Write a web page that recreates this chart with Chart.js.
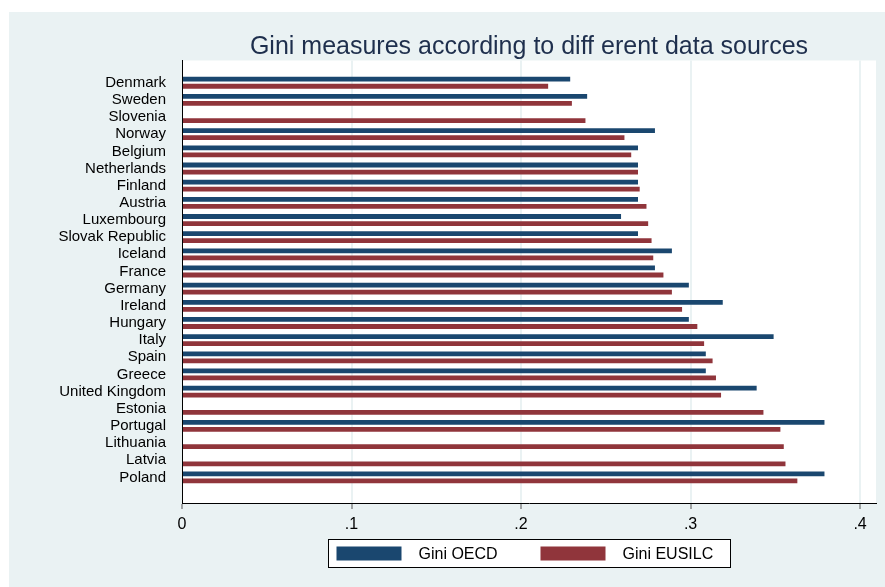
<!DOCTYPE html>
<html lang="en">
<head>
<meta charset="UTF-8">
<title>Gini measures according to different data sources</title>
<script src="https://cdn.jsdelivr.net/npm/chart.js"></script>
<style>
  html, body { margin: 0; padding: 0; background: #fff; }
  #wrap { width: 885px; height: 587px; }
</style>
</head>
<body>
<div id="wrap"><canvas id="giniChart" width="885" height="587"></canvas></div>
<script>
// values
const countries = ['Denmark', 'Sweden', 'Slovenia', 'Norway', 'Belgium', 'Netherlands', 'Finland',
  'Austria', 'Luxembourg', 'Slovak Republic', 'Iceland', 'France', 'Germany', 'Ireland', 'Hungary',
  'Italy', 'Spain', 'Greece', 'United Kingdom', 'Estonia', 'Portugal', 'Lithuania', 'Latvia', 'Poland'];
const giniOECD = [0.229, 0.239, null, 0.279, 0.269, 0.269, 0.269, 0.269, 0.259, 0.269, 0.289, 0.279,
  0.299, 0.319, 0.299, 0.349, 0.309, 0.309, 0.339, null, 0.379, null, null, 0.379];
const giniEUSILC = [0.216, 0.230, 0.238, 0.261, 0.265, 0.269, 0.270, 0.274, 0.275, 0.277, 0.278, 0.284,
  0.289, 0.295, 0.304, 0.308, 0.313, 0.315, 0.318, 0.343, 0.353, 0.355, 0.356, 0.363];
const xTicks = [0, 0.1, 0.2, 0.3, 0.4];
const xTickLabels = ['0', '.1', '.2', '.3', '.4'];

const FONT = 'Liberation Sans, Arial, sans-serif';

// stata-ish background: bluish graph region, white plot region
const bgPlugin = {
  id: 'stataBackground',
  beforeDraw(chart) {
    const c = chart.ctx, a = chart.chartArea;
    c.save();
    c.fillStyle = '#fff';
    c.fillRect(0, 0, chart.width, chart.height);
    c.fillStyle = '#EAF2F3';
    c.fillRect(9, 12, chart.width - 9, chart.height - 12);
    c.fillStyle = '#fff';
    c.fillRect(a.left, a.top, a.right - a.left, a.bottom - a.top);
    c.restore();
  }
};

// boxed legend under the axis
const legendPlugin = {
  id: 'boxLegend',
  afterDraw(chart) {
    const c = chart.ctx, a = chart.chartArea;
    const cx = (a.left + a.right) / 2;
    const left = Math.round(cx - 201) + 0.5;
    const top = chart.height - 48 + 0.5;
    c.save();
    c.fillStyle = '#fff';
    c.fillRect(left, top, 402, 28);
    c.strokeStyle = '#000';
    c.lineWidth = 1;
    c.strokeRect(left, top, 402, 28);
    c.font = '16px ' + FONT;
    c.textBaseline = 'middle';
    chart.data.datasets.forEach((ds, i) => {
      const x0 = left + 8 + i * 204;
      c.fillStyle = ds.backgroundColor;
      c.fillRect(x0, top + 7, 65, 14);
      c.fillStyle = '#000';
      c.fillText(ds.label, x0 + 82, top + 15);
    });
    c.restore();
  }
};

const ctx = document.getElementById('giniChart').getContext('2d');
new Chart(ctx, {
  type: 'bar',
  data: {
    datasets: [{
      label: 'Gini OECD',
      data: giniOECD.map((v, i) => ({ x: v, y: i })),
      backgroundColor: '#1A476F',
      barPercentage: 0.68,
      categoryPercentage: 0.82
    }, {
      label: 'Gini EUSILC',
      data: giniEUSILC.map((v, i) => ({ x: v, y: i })),
      backgroundColor: '#90353B',
      barPercentage: 0.68,
      categoryPercentage: 0.82
    }]
  },
  options: {
    responsive: false,
    animation: false,
    indexAxis: 'y',
    layout: { padding: { left: 9, right: 9, top: 0, bottom: 54 } },
    plugins: {
      legend: { display: false },
      tooltip: { enabled: false },
      title: {
        display: true,
        text: 'Gini measures according to diff erent data sources',
        fullSize: false,
        color: '#1E2F4D',
        font: { family: FONT, size: 25, weight: 'normal', lineHeight: 1.1 },
        padding: { top: 33, bottom: 0 }
      }
    },
    scales: {
      x: {
        type: 'linear',
        position: 'bottom',
        min: 0,
        max: 0.4094,
        afterBuildTicks: s => { s.ticks = xTicks.map(v => ({ value: v })); },
        afterFit: s => { s.height = 30; },
        ticks: {
          callback: (v, i) => xTickLabels[i],
          color: '#000',
          font: { family: FONT, size: 16 },
          padding: 6
        },
        grid: { color: '#EAF2F3', lineWidth: 2, tickColor: '#555', tickLength: 6, tickWidth: 1 },
        border: { color: '#000', width: 1 }
      },
      y: {
        type: 'linear',
        reverse: true,
        offset: false,
        min: -1.295,
        max: 24.49,
        afterBuildTicks: s => { s.ticks = countries.map((c, i) => ({ value: i })); },
        afterFit: s => { s.width = 173; },
        ticks: {
          callback: (v, i) => countries[i],
          autoSkip: false,
          color: '#000',
          font: { family: FONT, size: 15 },
          padding: 16
        },
        grid: { display: false, drawTicks: false },
        border: { color: '#000', width: 1 }
      }
    }
  },
  plugins: [bgPlugin, legendPlugin]
});
</script>
</body>
</html>
